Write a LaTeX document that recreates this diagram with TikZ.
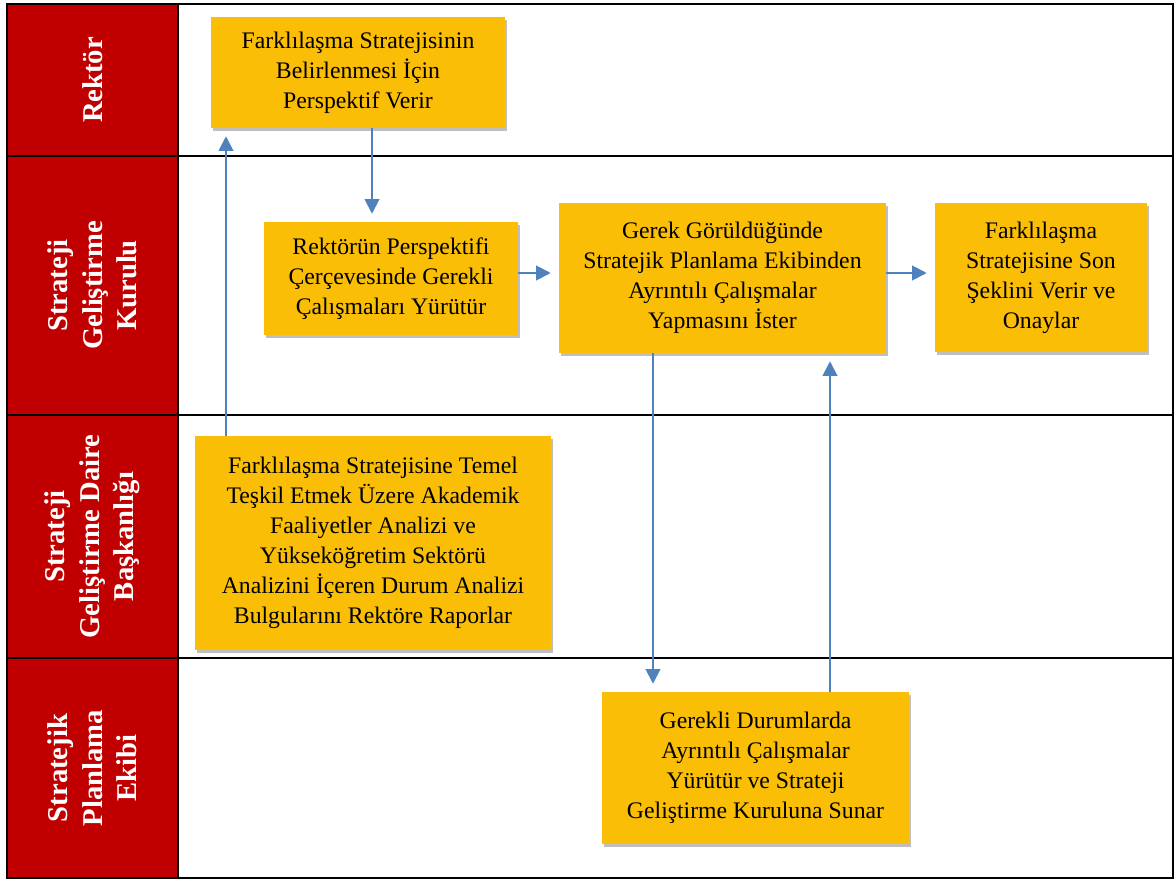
\documentclass[tikz,border=0pt]{standalone}
\usepackage{fontspec}
\setmainfont{Liberation Serif}
\usepackage{xcolor}
\usetikzlibrary{arrows.meta,shadows}

\definecolor{lanered}{RGB}{192,0,0}
\definecolor{boxyellow}{RGB}{249,190,5}
\definecolor{flowblue}{RGB}{79,129,189}

\begin{document}
\begin{tikzpicture}[
  x=0.75pt, y=-0.75pt,
  frame/.style={line width=1.5pt, black},
  lane/.style={rotate=90, align=center, text=white, font=\bfseries\fontsize{21.5}{26}\selectfont},
  box/.style={fill=boxyellow, align=center, inner sep=0pt, font=\fontsize{17.8}{22.5}\selectfont,
    drop shadow={shadow xshift=1.5pt, shadow yshift=-2pt, fill=black, opacity=0.25}},
  flow/.style={line width=1.5pt, flowblue, -{Triangle[length=11pt,width=11pt]}, shorten >=6pt}
]
\useasboundingbox (0,0) rectangle (1174,880);

% Lanes
\fill[lanered] (7,4) rectangle (178,878);
\draw[frame] (7,4) rectangle (1173,878);
\draw[frame] (178,4) -- (178,878);
\draw[frame] (7,156) -- (1173,156);
\draw[frame] (7,415) -- (1173,415);
\draw[frame] (7,658) -- (1173,658);

\node[lane] (l1) at (92.5,80) {Rektör};
\node[lane] (l2) at (92.5,285.5) {Strateji\\Geliştirme\\Kurulu};
\node[lane] (l3) at (92.5,536.5) {Strateji\\Geliştirme Daire\\Başkanlığı};
\node[lane] (l4) at (92.5,768) {Stratejik\\Planlama\\Ekibi};

% Steps
\node[box, minimum width=220.5pt, minimum height=83.25pt] (rekp) at (358,72.5)
  {Farklılaşma Stratejisinin\\Belirlenmesi İçin\\Perspektif Verir};
\node[box, minimum width=190.5pt, minimum height=84.75pt] (kurc) at (391,278.5)
  {Rektörün Perspektifi\\Çerçevesinde Gerekli\\Çalışmaları Yürütür};
\node[box, minimum width=245.25pt, minimum height=112.5pt] (kuri) at (722.5,278)
  {Gerek Görüldüğünde\\Stratejik Planlama Ekibinden\\Ayrıntılı Çalışmalar\\Yapmasını İster};
\node[box, minimum width=159pt, minimum height=111.75pt] (kuro) at (1041,277.5)
  {Farklılaşma\\Stratejisine Son\\Şeklini Verir ve\\Onaylar};
\node[box, minimum width=267pt, minimum height=160.5pt] (daid) at (373,543)
  {Farklılaşma Stratejisine Temel\\Teşkil Etmek Üzere Akademik\\Faaliyetler Analizi ve\\Yükseköğretim Sektörü\\Analizini İçeren Durum Analizi\\Bulgularını Rektöre Raporlar};
\node[box, minimum width=230.25pt, minimum height=114pt] (ekis) at (755.5,768)
  {Gerekli Durumlarda\\Ayrıntılı Çalışmalar\\Yürütür ve Strateji\\Geliştirme Kuruluna Sunar};

% Connectors
\coordinate (xa) at (372,0);
\coordinate (xb) at (226,0);
\coordinate (xe) at (653,0);
\coordinate (xf) at (830,0);
\coordinate (yc) at (0,273);

\draw[flow] (rekp.south -| xa) -- (kurc.north -| xa);
\draw[flow] (daid.north -| xb) -- (rekp.south -| xb);
\draw[flow] (kurc.east |- yc) -- (kuri.west |- yc);
\draw[flow] (kuri.east |- yc) -- (kuro.west |- yc);
\draw[flow] (kuri.south -| xe) -- (ekis.north -| xe);
\draw[flow] (ekis.north -| xf) -- (kuri.south -| xf);

\end{tikzpicture}
\end{document}
